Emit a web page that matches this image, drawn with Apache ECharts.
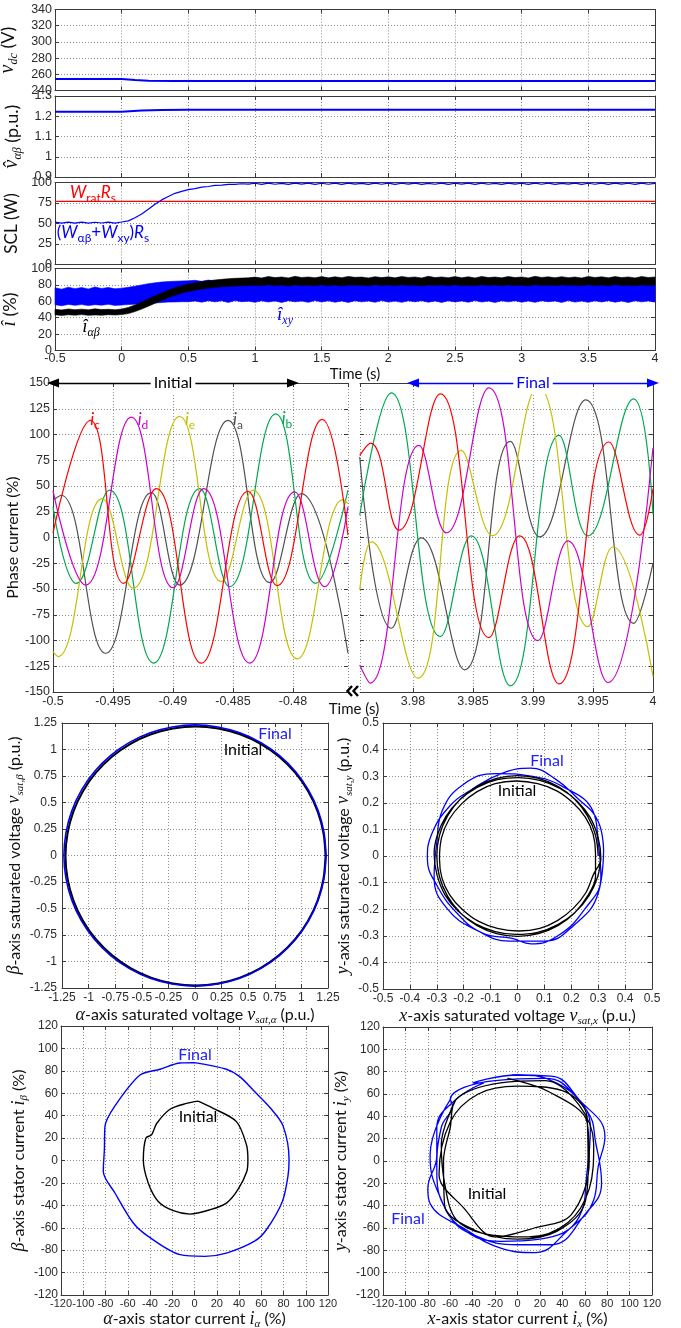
<!DOCTYPE html>
<html>
<head>
<meta charset="utf-8">
<script src="https://cdn.jsdelivr.net/npm/echarts@6/dist/echarts.min.js"></script>
<style>
html,body{margin:0;padding:0;background:#fff;}
#c{width:681px;height:1328px;}
</style>
</head>
<body>
<div id="c"></div>
<script>
// ---------------- Slow trends, sampled every 0.05 s from -0.5 s ----------------
const T0 = -0.5, DT = 0.05;

const vdcTime   = [-0.5, 0, 0.1, 0.2, 0.4, 4];
const vdcValues = [254.3, 254.2, 253.0, 252.1, 251.7, 251.7];

const vHatTime   = [-0.5, 0, 0.15, 0.3, 0.5, 4];
const vHatValues = [1.222, 1.222, 1.228, 1.231, 1.232, 1.232];

const sclRated = 77;
const sclValues = [
  51.6,50.4,51.7,50.5,51.6,50.4,51.5,50.6,51.7,50.5,
  51.8,53.2,57.0,61.5,67.5,73.5,78.8,83.0,86.8,89.2,
  91.3,92.6,94.3,95.1,96.4,96.8,97.7,97.6,98.5,98.0,
  99.1,97.8,99.3,97.9,99.0,97.7,99.2,98.0,99.3,97.8,
  99.1,97.9,99.2,97.7,99.3,98.0,99.0,97.8,99.2,97.9,
  99.3,97.7,99.1,98.0,99.2,97.8,99.0,97.9,99.3,97.7,
  99.1,98.0,99.2,97.8,99.3,97.9,99.0,97.7,99.2,98.0,
  99.1,97.8,99.3,97.9,99.2,97.7,99.0,98.0,99.3,97.8,
  99.1,97.9,99.2,97.7,99.3,98.0,99.1,97.8,99.2,97.9,99.0
];

// peak current envelopes (%)
const iAbLower = [
  43.5,42.8,43.6,43.1,43.8,42.9,43.4,43.0,43.7,43.3,
  43.8,45.0,47.5,50.5,54.0,57.5,61.0,64.5,67.5,70.0,
  72.0,73.5,75.0,76.0,77.0,77.8,78.3,78.6,79.0,79.2,
  79.6,78.9,80.1,79.3,79.8,78.8,80.0,79.4,79.7,79.0,
  80.2,79.1,79.9,78.7,80.0,79.5,79.6,78.9,80.3,79.2,
  79.8,79.0,80.1,79.3,79.7,78.8,80.0,79.4,79.9,79.1,
  80.2,79.0,79.6,78.9,80.1,79.4,79.8,79.0,80.0,79.2,
  79.7,78.8,80.2,79.3,79.9,79.1,80.0,79.5,79.6,78.9,
  80.1,79.2,79.8,79.0,80.3,79.4,79.7,78.9,80.0,79.3,79.8
];
const iAbUpper = [
  50.2,49.5,50.6,49.8,50.4,49.6,50.8,49.9,50.3,49.7,
  50.5,52.5,55.5,59.0,63.0,66.5,70.0,73.5,76.5,79.0,
  81.0,82.5,84.0,85.0,86.0,86.8,87.5,88.0,88.3,88.6,
  89.5,88.4,90.2,88.9,89.7,88.5,90.4,89.0,89.6,88.7,
  90.1,88.6,89.9,88.8,90.3,89.2,89.5,88.5,90.0,88.9,
  89.8,88.6,90.2,89.1,89.6,88.4,90.5,88.9,89.7,88.8,
  90.1,88.7,89.9,88.5,90.3,89.0,89.6,88.6,90.2,88.9,
  89.7,88.5,90.4,89.1,89.8,88.7,90.0,88.8,89.6,88.4,
  90.3,89.0,89.9,88.6,90.1,88.9,89.7,88.5,90.2,89.0,89.6
];
const iXyLower = [
  55.8,54.6,56.2,55.1,56.0,54.8,55.9,55.3,56.3,55.0,
  55.5,56.0,56.5,57.0,57.5,58.0,58.5,59.0,59.2,59.5,59.5,
  60.4,58.9,60.8,59.3,60.6,58.6,60.9,59.5,60.2,58.8,
  60.7,59.1,60.5,58.5,60.8,59.4,60.3,58.7,60.9,59.2,
  60.6,58.9,60.4,58.6,60.7,59.3,60.5,58.8,60.9,59.0,
  60.3,58.7,60.6,59.4,60.8,58.9,60.4,58.6,60.7,59.2,
  60.5,58.8,60.9,59.1,60.3,58.5,60.6,59.3,60.8,58.9,
  60.4,58.7,60.7,59.4,60.5,58.6,60.9,59.0,60.3,58.8,
  60.6,59.2,60.8,58.9,60.4,58.5,60.7,59.3,60.5,59.0
];
const iXyUpper = [
  76.5,74.8,77.2,75.4,76.8,75.0,77.5,75.6,76.9,75.2,
  76.0,77.0,78.5,80.0,81.5,82.5,83.5,84.0,84.5,84.8,85.0,
  85.6,84.3,85.9,84.6,85.4,84.2,86.0,84.8,85.5,84.4,
  85.8,84.5,85.7,84.1,85.9,84.7,85.3,84.4,86.1,84.6,
  85.5,84.2,85.8,84.8,85.6,84.3,85.9,84.5,85.4,84.7,
  85.7,84.4,86.0,84.6,85.5,84.1,85.8,84.8,85.6,84.3,
  85.9,84.5,85.4,84.7,85.8,84.2,85.6,84.6,86.0,84.4,
  85.5,84.8,85.7,84.3,85.9,84.5,85.3,84.6,85.8,84.4,
  85.6,84.2,85.9,84.7,85.4,84.5,86.0,84.3,85.7,84.6
];

// ---------------- Phase currents (%) ----------------
const iaInit = [[-0.5,36.2],[-0.49931,41],[-0.49561,-112.4],[-0.49181,43.6],[-0.48944,-46.2],[-0.48542,113.7],[-0.48194,-43.9],[-0.47931,42.6],[-0.47542,-112.4]];
const ibInit = [[-0.5,29.7],[-0.49806,-44.6],[-0.49528,45.9],[-0.49161,-122],[-0.48778,47.5],[-0.48528,-47.8],[-0.48144,120.1],[-0.47811,-44.6],[-0.47542,45.9]];
const icInit = [[-0.5,4.5],[-0.49689,113.7],[-0.49411,-44.6],[-0.49139,47.5],[-0.48764,-122],[-0.48375,44.9],[-0.48133,-46.8],[-0.47756,114.6],[-0.47542,2.3]];
const idInit = [[-0.5,45.2],[-0.49728,-46.2],[-0.49347,116.9],[-0.49,-48.8],[-0.48744,47.5],[-0.48361,-122],[-0.47986,44.2],[-0.47736,-47.8],[-0.47542,29.7]];
const ieInit = [[-0.5,-110.8],[-0.49958,-115.6],[-0.49589,37.8],[-0.49333,-49.4],[-0.48944,117.5],[-0.48597,-42.9],[-0.48333,45.9],[-0.47964,-117.9],[-0.47583,36.8],[-0.47542,32.9]];

const iaFin = [[3.97556,78.1],[3.97819,-88.1],[3.98069,-0.3],[3.98431,-128.5],[3.98811,93.3],[3.99056,0.6],[3.99439,133.7],[3.99839,-83.3],[4.0,-25.2]];
const ibFin = [[3.97556,21.6],[3.97819,140.5],[3.98228,-96.2],[3.98486,1.6],[3.98811,-144],[3.99217,99.1],[3.99458,1.6],[3.99839,134.6],[4.0,22.6]];
const icFin = [[3.97556,79.8],[3.97647,91.7],[3.97883,7.1],[3.98228,139.5],[3.98633,-97.2],[3.98889,1.6],[3.99217,-142.1],[3.99633,92.7],[3.99889,2.3],[4.0,47.5]];
const idFin = [[3.97556,-123.7],[3.97644,-141.4],[3.9805,89.4],[3.98278,4.5],[3.98633,145.3],[3.99042,-100.1],[3.99292,-3.2],[3.99625,-140.8],[4.0,87.2]];
const ieFin = [[3.97556,-51],[3.97653,-4.2],[3.98042,-136.6],[3.98403,84.6],[3.98661,1.6],[3.99042,146.6],[3.99458,-86.5],[3.99667,-9],[4.0,-135]];

// ---------------- Saturated voltage loci (p.u.) ----------------
const vAbInitial = [
  [1.227,-0.004],[1.208,0.208],[1.153,0.414],[1.063,0.607],[0.941,0.781],[0.791,0.932],[0.616,1.054],[0.423,1.144],[0.217,1.199],[0.005,1.218],
  [-0.207,1.199],[-0.413,1.144],[-0.606,1.054],[-0.781,0.932],[-0.931,0.781],[-1.053,0.607],[-1.143,0.414],[-1.198,0.208],[-1.217,-0.004],
  [-1.198,-0.216],[-1.143,-0.422],[-1.053,-0.615],[-0.931,-0.79],[-0.781,-0.94],[-0.606,-1.062],[-0.413,-1.152],[-0.207,-1.207],[0.005,-1.226],
  [0.217,-1.207],[0.423,-1.152],[0.616,-1.062],[0.791,-0.94],[0.941,-0.79],[1.063,-0.615],[1.153,-0.422],[1.208,-0.216],[1.227,-0.004]
];
const vAbFinal = [
  [1.232,0],[1.213,0.214],[1.158,0.421],[1.067,0.616],[0.944,0.792],[0.792,0.944],[0.616,1.067],[0.421,1.158],[0.214,1.213],[0,1.232],
  [-0.214,1.213],[-0.421,1.158],[-0.616,1.067],[-0.792,0.944],[-0.944,0.792],[-1.067,0.616],[-1.158,0.421],[-1.213,0.214],[-1.232,0],
  [-1.213,-0.214],[-1.158,-0.421],[-1.067,-0.616],[-0.944,-0.792],[-0.792,-0.944],[-0.616,-1.067],[-0.421,-1.158],[-0.214,-1.213],[0,-1.232],
  [0.214,-1.213],[0.421,-1.158],[0.616,-1.067],[0.792,-0.944],[0.944,-0.792],[1.067,-0.616],[1.158,-0.421],[1.213,-0.214],[1.232,0]
];

const vXyInitial = [
  [0.30,0],[0.29,0.078],[0.26,0.151],[0.212,0.214],[0.15,0.262],[0.078,0.292],[0,0.302],[-0.078,0.292],[-0.15,0.262],[-0.212,0.214],[-0.26,0.151],[-0.29,0.078],
  [-0.30,0],[-0.29,-0.078],[-0.26,-0.151],[-0.212,-0.214],[-0.15,-0.262],[-0.078,-0.292],[0,-0.302],[0.078,-0.292],[0.15,-0.262],[0.212,-0.214],[0.26,-0.151],[0.29,-0.078],
  [0.29,0.01],[0.281,0.082],[0.252,0.146],[0.206,0.2],[0.146,0.245],[0.075,0.272],[-0.005,0.282],[-0.083,0.272],[-0.15,0.242],[-0.208,0.196],[-0.254,0.138],[-0.282,0.07],
  [-0.29,-0.01],[-0.281,-0.082],[-0.252,-0.146],[-0.206,-0.2],[-0.146,-0.245],[-0.075,-0.272],[0.005,-0.282],[0.083,-0.272],[0.15,-0.242],[0.208,-0.196],[0.254,-0.138],[0.282,-0.07],
  [0.31,-0.01],[0.3,0.068],[0.27,0.145],[0.222,0.206],[0.158,0.254],[0.083,0.284],[0.005,0.295],[-0.075,0.287],[-0.15,0.258],[-0.216,0.21],[-0.266,0.149],[-0.298,0.078],
  [-0.31,0.01],[-0.3,-0.068],[-0.27,-0.145],[-0.222,-0.206],[-0.158,-0.254],[-0.083,-0.284],[-0.005,-0.295],[0.075,-0.287],[0.15,-0.258],[0.216,-0.21],[0.266,-0.149],[0.298,-0.078],[0.31,-0.01]
];
const vXyFinal = [
  [0.32,0.02],[0.30,0.13],[0.22,0.22],[0.14,0.29],[0.05,0.33],[-0.06,0.31],[-0.17,0.25],[-0.25,0.19],[-0.32,0.08],[-0.335,-0.01],[-0.30,-0.11],[-0.22,-0.22],[-0.13,-0.29],[-0.02,-0.31],[0.05,-0.33],[0.15,-0.30],[0.25,-0.20],[0.31,-0.08],
  [0.30,0.05],[0.28,0.17],[0.17,0.26],[0.05,0.30],[-0.08,0.31],[-0.20,0.27],[-0.28,0.17],[-0.30,0.05],[-0.31,-0.08],[-0.26,-0.20],[-0.15,-0.28],[-0.03,-0.32],[0.10,-0.32],[0.21,-0.26],[0.30,-0.14],[0.32,0.02]
];

// ---------------- Stator current loci (%) ----------------
const iAbInitial = [[3.3,53],[16.8,46.6],[37.7,34.7],[46.7,14],[48,0.6],[47,-9.8],[39,-26],[28.7,-38],[13.8,-44],[-4,-47.8],[-19,-44.8],[-32.6,-36.5],[-41.6,-20],[-46,0.6],[-43.7,20],[-38.6,22.9],[-34,33],[-22,45.7],[-7,51],[3.3,53]];
const iAbFinal = [[0,87.3],[28.7,81.4],[40.7,74.8],[54,61.5],[68,47],[79.6,30.9],[85,0.6],[84,-14],[79,-36.5],[64.6,-61.8],[54,-72],[28.7,-82.6],[9.3,-85.5],[-13,-84],[-41.6,-67.7],[-55,-55.8],[-71.5,-29],[-82,-9.8],[-81,10],[-80.5,30.3],[-71.5,48.7],[-49,76.3],[-31,81.4],[-13,87],[0,87.3]];

const iXyInitial = [
  [-9,74],[28,62],[62,35],[64,0],[48,-48],[15,-60],[-20,-68],[-48,-42],[-70,-12],[-60,35],[-35,60],
  [0,67],[40,63],[62,40],[63,-5],[60,-38],[35,-63],[0,-70],[-38,-62],[-65,-40],[-66,0],[-60,30],
  [-55,55],[-15,70],[25,72],[55,50],[68,15],[64,-25],[45,-55],[10,-68],[-30,-65],[-55,-52],[-65,-20],[-68,15],[-55,55]
];
const iXyFinal = [
  [-5,77],[30,76],[55,55],[78,22],[72,-5],[68,-35],[45,-62],[15,-82],[-15,-78],[-45,-62],[-78,-38],[-80,-25],[-72,5],[-72,30],[-55,55],[-30,70],
  [-40,70],[0,77],[30,72],[62,45],[70,15],[75,-20],[60,-48],[30,-75],[0,-75],[-35,-68],[-60,-50],[-72,-10],[-68,30],[-58,50],
  [-60,55],[-20,72],[25,74],[50,60],[65,30],[62,-10],[55,-50],[20,-70],[-15,-72],[-50,-60],[-70,-30],[-78,5],[-60,55]
];

// ---------------- Styling ----------------
const FONT_TICK = '"Liberation Sans", Arial, sans-serif';
const FONT_TEXT = 'Lato, "Open Sans", sans-serif';
const FONT_MATH = '"Liberation Serif", "DejaVu Serif", serif';
const FRAME = '#3a3a3a';
const BLUE = '#0000ff', RED = '#ff0000', BLACK = '#000000';
const PH = {a: '#505050', b: '#00a850', c: '#ff0000', d: '#cc00cc', e: '#c4c000'};

function rich(size, color) {
  return {
    v: {fontFamily: FONT_MATH, fontStyle: 'italic', fontSize: size + 2, lineHeight: size + 6, color},
    s: {fontFamily: FONT_MATH, fontStyle: 'italic', fontSize: Math.round(size * 0.68), verticalAlign: 'bottom', lineHeight: Math.round(size * 0.7), color},
    t: {fontFamily: FONT_TEXT, fontSize: size, lineHeight: size + 6, color},
    ti: {fontFamily: FONT_TEXT, fontStyle: 'italic', fontSize: size, lineHeight: size + 6, color},
    ts: {fontFamily: FONT_TEXT, fontSize: Math.round(size * 0.72), verticalAlign: 'bottom', lineHeight: Math.round(size * 0.7), color}
  };
}

// plot boxes
const grids = [
  {left: 55, top: 9.5, width: 600, height: 81},
  {left: 55, top: 96, width: 600, height: 81},
  {left: 55, top: 182.5, width: 600, height: 82},
  {left: 55, top: 268.5, width: 600, height: 82},
  {left: 53, top: 383, width: 295, height: 309},
  {left: 360, top: 383, width: 293, height: 309},
  {left: 62, top: 723, width: 266, height: 265},
  {left: 383, top: 723, width: 269, height: 266},
  {left: 61, top: 1026, width: 267, height: 269},
  {left: 383, top: 1027, width: 269, height: 268}
].map(g => Object.assign({show: false, outerBoundsMode: 'none', containLabel: false}, g));

const xAxes = [], yAxes = [];
function axis(gi, dim, o, mirror) {
  const a = {
    gridIndex: gi, type: 'value', min: o.min, max: o.max,
    position: mirror ? (dim === 'x' ? 'top' : 'right') : (dim === 'x' ? 'bottom' : 'left'),
    axisLine: {show: mirror ? o.mirrorLine !== false : o.line !== false, onZero: false, lineStyle: {color: FRAME, width: 1}},
    axisTick: {show: true, inside: true, length: 4, lineStyle: {color: FRAME}},
    axisLabel: {show: !mirror && o.labels !== false, color: '#2b2b2b', fontFamily: FONT_TICK, fontSize: o.fs || 12.5,
                margin: o.margin !== undefined ? o.margin : 3, hideOverlap: false,
                showMinLabel: o.hideMin ? false : true, showMaxLabel: o.hideMax ? false : true},
    splitLine: {show: !mirror, lineStyle: {color: '#707070', width: 0.8, type: [1, 2]}}
  };
  if (o.interval !== undefined) a.interval = o.interval;
  if (!mirror && o.name) {
    a.name = o.name;
    a.nameLocation = 'middle';
    a.nameGap = o.nameGap;
    a.nameRotate = dim === 'y' ? 90 : 0;
    a.nameTextStyle = {rich: rich(o.nameSize || 16, '#111'), fontFamily: FONT_TEXT, fontSize: o.nameSize || 16, color: '#111'};
  }
  return a;
}
function panel(gi, xo, yo) {
  xAxes.push(axis(gi, 'x', xo, false), axis(gi, 'x', xo, true));
  yAxes.push(axis(gi, 'y', yo, false), axis(gi, 'y', yo, true));
}

const tAxis = {min: -0.5, max: 4, interval: 0.5, labels: false};
panel(0, tAxis, {min: 240, max: 340, interval: 20, name: '{v|v}{s|dc}{t| (V)}', nameGap: 23, nameSize: 18});
panel(1, tAxis, {min: 0.9, max: 1.3, interval: 0.1, name: '{v|v\u0302}{s|αβ}{t| (p.u.)}', nameGap: 23, nameSize: 18});
panel(2, tAxis, {min: 0, max: 100, interval: 25, name: '{t|SCL (W)}', nameGap: 24, nameSize: 17});
panel(3, {min: -0.5, max: 4, interval: 0.5, margin: 2, name: '{t|Time (s)}', nameGap: 12, nameSize: 15},
         {min: 0, max: 100, interval: 20, name: '{v|î}{t| (%)}', nameGap: 23, nameSize: 18});
panel(4, {min: -0.5, max: -0.475417, interval: 0.005, hideMax: true, margin: 3},
         {min: -150, max: 150, interval: 25, mirrorLine: false, name: '{t|Phase current (%)}', nameGap: 22});
panel(5, {min: 3.975583, max: 4, hideMin: true, margin: 3},
         {min: -150, max: 150, interval: 25, line: false, labels: false});
panel(6, {min: -1.25, max: 1.25, interval: 0.25, fs: 12, margin: 4, name: '{v|α}{t|-axis saturated voltage }{v|v}{s|sat,α}{t| (p.u.)}', nameGap: 16},
         {min: -1.25, max: 1.25, interval: 0.25, fs: 12, margin: 5, name: '{v|β}{t|-axis saturated voltage }{v|v}{s|sat,β}{t| (p.u.)}', nameGap: 31});
panel(7, {min: -0.5, max: 0.5, interval: 0.1, fs: 12, margin: 4, name: '{v|x}{t|-axis saturated voltage }{v|v}{s|sat,x}{t| (p.u.)}', nameGap: 16},
         {min: -0.5, max: 0.5, interval: 0.1, fs: 12, margin: 4, name: '{v|y}{t|-axis saturated voltage }{v|v}{s|sat,y}{t| (p.u.)}', nameGap: 21});
panel(8, {min: -120, max: 120, interval: 20, fs: 11, margin: 3, name: '{v|α}{t|-axis stator current }{v|i}{s|α}{t| (%)}', nameGap: 12},
         {min: -120, max: 120, interval: 20, fs: 12, margin: 3, name: '{v|β}{t|-axis stator current }{v|i}{s|β}{t| (%)}', nameGap: 30});
panel(9, {min: -120, max: 120, interval: 20, fs: 11, margin: 3, name: '{v|x}{t|-axis stator current }{v|i}{s|x}{t| (%)}', nameGap: 12},
         {min: -120, max: 120, interval: 20, fs: 12, margin: 3, name: '{v|y}{t|-axis stator current }{v|i}{s|y}{t| (%)}', nameGap: 21});

// ---------------- Series ----------------
const tGrid = sclValues.map((_, k) => +(T0 + k * DT).toFixed(3));
const pairs = (ts, vs) => ts.map((t, k) => [t, vs[k]]);

function line(gi, data, color, width, extra) {
  return Object.assign({
    type: 'line', xAxisIndex: 2 * gi, yAxisIndex: 2 * gi, data, showSymbol: false, symbol: 'none',
    lineStyle: {color, width}, itemStyle: {color}, animation: false, silent: true
  }, extra || {});
}
function band(gi, lower, upper, color) {
  const rows = tGrid.map((t, k) => [t, lower[k], upper[k]]);
  return {
    type: 'custom', xAxisIndex: 2 * gi, yAxisIndex: 2 * gi, data: rows, animation: false, silent: true,
    encode: {x: 0, y: [1, 2]},
    renderItem(params, api) {
      if (params.dataIndex !== 0) return null;
      const pts = [];
      rows.forEach(r => pts.push(api.coord([r[0], r[2]])));
      for (let k = rows.length - 1; k >= 0; k--) pts.push(api.coord([rows[k][0], rows[k][1]]));
      return {type: 'polygon', shape: {points: pts}, style: {fill: color, stroke: color, lineWidth: 0.6}};
    }
  };
}
function arrow(from, to, color) {
  return {
    silent: true, animation: false, symbol: ['triangle', 'triangle'], symbolSize: [9, 12],
    label: {show: false}, lineStyle: {color, width: 1.4, type: 'solid'},
    data: [[{coord: from}, {coord: to}]]
  };
}
const phaseSmooth = {smooth: 0.45};

const series = [
  line(0, pairs(vdcTime, vdcValues), BLUE, 2),
  line(1, pairs(vHatTime, vHatValues), BLUE, 2),
  line(2, [[-0.5, sclRated], [4, sclRated]], RED, 1.2),
  line(2, pairs(tGrid, sclValues), BLUE, 1.2),
  band(3, iXyLower, iXyUpper, BLUE),
  band(3, iAbLower, iAbUpper, BLACK),

  line(4, iaInit, PH.a, 1.2, phaseSmooth),
  line(4, ibInit, PH.b, 1.2, phaseSmooth),
  line(4, ieInit, PH.e, 1.2, phaseSmooth),
  line(4, idInit, PH.d, 1.2, phaseSmooth),
  line(4, icInit, PH.c, 1.2, Object.assign({markLine: arrow([-0.5, 150], [-0.48, 150], BLACK)}, phaseSmooth)),
  line(5, iaFin, PH.a, 1.2, phaseSmooth),
  line(5, ibFin, PH.b, 1.2, phaseSmooth),
  line(5, ieFin, PH.e, 1.2, phaseSmooth),
  line(5, idFin, PH.d, 1.2, phaseSmooth),
  line(5, icFin, PH.c, 1.2, Object.assign({markLine: arrow([3.98, 150], [4, 150], BLUE)}, phaseSmooth)),

  line(6, vAbInitial, BLACK, 2, {smooth: 0.3}),
  line(6, vAbFinal, BLUE, 1.6, {smooth: 0.3}),
  line(7, vXyFinal, BLUE, 1.3, {smooth: 0.45}),
  line(7, vXyInitial, BLACK, 1.3, {smooth: 0.35}),
  line(8, iAbFinal, BLUE, 1.4, {smooth: 0.3}),
  line(8, iAbInitial, BLACK, 1.4, {smooth: 0.3}),
  line(9, iXyFinal, BLUE, 1.3, {smooth: 0.45}),
  line(9, iXyInitial, BLACK, 1.3, {smooth: 0.35})
];

// ---------------- Annotations ----------------
function label(x, y, text, color, size, extra) {
  return Object.assign({
    type: 'text', x, y, z: 100, silent: true,
    style: {text, rich: rich(size, color), fill: color, fontFamily: FONT_TEXT, fontSize: size, align: 'center', verticalAlign: 'middle'}
  }, extra || {});
}
function boxed(x, y, text, color, size) {
  const g = label(x, y, text, color, size);
  g.style.backgroundColor = '#fff';
  g.style.padding = [0, 3];
  return g;
}

const graphics = [
  label(93, 193, '{ti|W}{ts|rat}{ti|R}{ts|s}', RED, 17),
  label(103, 233, '{t|(}{ti|W}{ts|αβ}{t|+}{ti|W}{ts|xy}{t|)}{ti|R}{ts|s}', BLUE, 17),
  label(91, 327, '{v|î}{s|αβ}', BLACK, 17),
  label(285, 315, '{v|î}{s|xy}', BLUE, 17),

  boxed(173, 383, '{t|Initial}', BLACK, 16),
  boxed(533, 383, '{t|Final}', BLUE, 16),
  label(95, 420, '{ti|i}{ts|c}', PH.c, 17),
  label(143, 420, '{ti|i}{ts|d}', PH.d, 17),
  label(190, 420, '{ti|i}{ts|e}', PH.e, 17),
  label(238, 420, '{ti|i}{ts|a}', PH.a, 17),
  label(287, 419, '{ti|i}{ts|b}', PH.b, 17),
  label(354, 709, '{t|Time (s)}', '#111', 15),
  {type: 'polyline', z: 100, silent: true, shape: {points: [[352, 686], [347.5, 691], [352, 696]]}, style: {stroke: '#000', lineWidth: 2.4, fill: null}},
  {type: 'polyline', z: 100, silent: true, shape: {points: [[358, 686], [353.5, 691], [358, 696]]}, style: {stroke: '#000', lineWidth: 2.4, fill: null}},

  label(275, 734, '{t|Final}', '#2020ff', 16),
  label(243, 750, '{t|Initial}', BLACK, 16),
  label(547, 761, '{t|Final}', '#2020ff', 16),
  label(517, 791, '{t|Initial}', BLACK, 16),
  label(195, 1055, '{t|Final}', '#2020ff', 16),
  label(198, 1117, '{t|Initial}', BLACK, 16),
  label(408, 1219, '{t|Final}', '#2020ff', 16),
  label(487, 1194, '{t|Initial}', BLACK, 16)
];

const chart = echarts.init(document.getElementById('c'), null, {renderer: 'canvas', width: 681, height: 1328});
chart.setOption({
  backgroundColor: '#fff',
  animation: false,
  grid: grids,
  xAxis: xAxes,
  yAxis: yAxes,
  series,
  graphic: graphics
});
</script>
</body>
</html>
